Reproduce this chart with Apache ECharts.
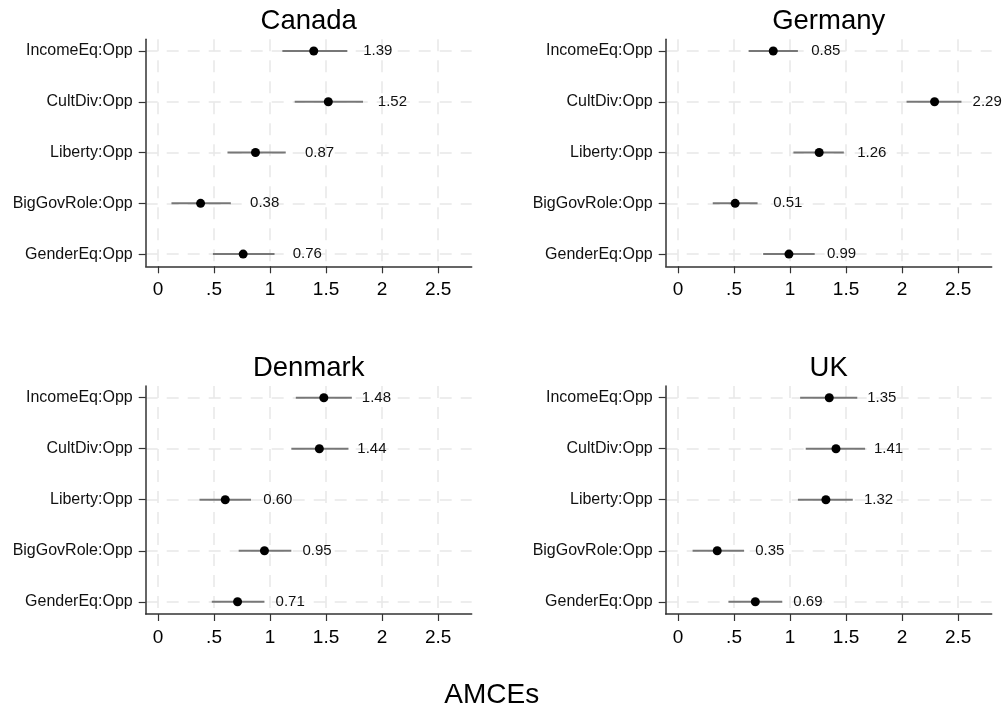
<!DOCTYPE html>
<html>
<head>
<meta charset="utf-8">
<script src="https://cdn.jsdelivr.net/npm/echarts@6/dist/echarts.min.js"></script>
<style>
html,body{margin:0;padding:0;background:#fff;}
#chart{width:1003px;height:711px;}
</style>
</head>
<body>
<div id="chart"></div>
<script>
const categories = ['IncomeEq:Opp', 'CultDiv:Opp', 'Liberty:Opp', 'BigGovRole:Opp', 'GenderEq:Opp'];
const countries = ['Canada', 'Germany', 'Denmark', 'UK'];
const xTickValues = [0, 0.5, 1, 1.5, 2, 2.5];
const xTickLabels = ['0', '.5', '1', '1.5', '2', '2.5'];

const canadaEst = [1.39, 1.52, 0.87, 0.38, 0.76];
const canadaLo  = [1.11, 1.22, 0.62, 0.12, 0.49];
const canadaHi  = [1.69, 1.83, 1.14, 0.65, 1.04];

const germanyEst = [0.85, 2.29, 1.26, 0.51, 0.99];
const germanyLo  = [0.63, 2.04, 1.03, 0.31, 0.76];
const germanyHi  = [1.07, 2.53, 1.48, 0.71, 1.22];

const denmarkEst = [1.48, 1.44, 0.60, 0.95, 0.71];
const denmarkLo  = [1.23, 1.19, 0.37, 0.72, 0.48];
const denmarkHi  = [1.73, 1.70, 0.83, 1.19, 0.95];

const ukEst = [1.35, 1.41, 1.32, 0.35, 0.69];
const ukLo  = [1.09, 1.14, 1.07, 0.13, 0.45];
const ukHi  = [1.60, 1.67, 1.56, 0.59, 0.93];

const xAxisTitle = 'AMCEs';

const panels = [
  {name: countries[0], est: canadaEst, lo: canadaLo, hi: canadaHi},
  {name: countries[1], est: germanyEst, lo: germanyLo, hi: germanyHi},
  {name: countries[2], est: denmarkEst, lo: denmarkLo, hi: denmarkHi},
  {name: countries[3], est: ukEst, lo: ukLo, hi: ukHi}
];

const FONT = '"Liberation Sans", Arial, sans-serif';
const gridPos = [
  {left: 145.7, top: 39.3, width: 326, height: 227},
  {left: 665.7, top: 39.3, width: 326, height: 227},
  {left: 145.7, top: 386, width: 326, height: 228},
  {left: 665.7, top: 386, width: 326, height: 228}
];
const labelDist = [45, 33.5, 33.5, 33.5];
const titlePos = [[308.7, 21], [828.7, 21], [308.7, 368], [828.7, 368]];
const catPositions = categories.map((c, i) => i + 1);

const grids = [], xAxes = [], yAxes = [], series = [], graphics = [];
panels.forEach((p, k) => {
  grids.push(Object.assign({containLabel: false}, gridPos[k]));
  xAxes.push({
    type: 'value', gridIndex: k, min: -0.11, max: 2.8,
    axisLine: {show: true, onZero: false, lineStyle: {color: '#333', width: 1.5}},
    axisTick: {show: true, length: 7, customValues: xTickValues, lineStyle: {color: '#333', width: 1.2}},
    axisLabel: {show: true, customValues: xTickValues, margin: 14, fontSize: 19, fontFamily: FONT, color: '#000',
      formatter: v => xTickLabels[xTickValues.indexOf(v)] !== undefined ? xTickLabels[xTickValues.indexOf(v)] : ''},
    splitLine: {show: true, lineStyle: {color: '#e8e8e8', width: 1.5, type: [12, 9]}}
  });
  yAxes.push({
    type: 'value', gridIndex: k, inverse: true, min: 0.77, max: 5.24,
    axisLine: {show: true, onZero: false, lineStyle: {color: '#333', width: 1.5}},
    axisTick: {show: true, length: 7, customValues: catPositions, lineStyle: {color: '#333', width: 1.2}},
    axisLabel: {show: true, customValues: catPositions, margin: 13, fontSize: 16, fontFamily: FONT, color: '#111',
      formatter: v => categories[Math.round(v) - 1] || ''},
    splitLine: {show: true, lineStyle: {color: '#e8e8e8', width: 1.5, type: [12, 9]}}
  });
  series.push({
    type: 'custom', xAxisIndex: k, yAxisIndex: k, silent: true, clip: false,
    encode: {x: [1, 2], y: 0},
    data: catPositions.map((y, i) => [y, p.lo[i], p.hi[i]]),
    renderItem: (params, api) => {
      const y = api.value(0);
      const a = api.coord([api.value(1), y]);
      const b = api.coord([api.value(2), y]);
      return {type: 'line', shape: {x1: a[0], y1: a[1], x2: b[0], y2: b[1]},
        style: {stroke: '#777', lineWidth: 2}};
    },
    z: 2
  });
  series.push({
    type: 'scatter', xAxisIndex: k, yAxisIndex: k, silent: true,
    symbol: 'circle', symbolSize: 9,
    itemStyle: {color: '#000', opacity: 1},
    data: catPositions.map((y, i) => [p.est[i], y]),
    label: {show: true, position: 'right', distance: labelDist[k], fontSize: 15, fontFamily: FONT, color: '#111', opacity: 1,
      formatter: d => d.value[0].toFixed(2)},
    z: 3
  });
  graphics.push({type: 'text', x: titlePos[k][0], y: titlePos[k][1],
    style: {text: p.name, font: '27.5px ' + FONT, fill: '#000', align: 'center', verticalAlign: 'middle'}});
});
graphics.push({type: 'text', x: 491.7, y: 695.5,
  style: {text: xAxisTitle, font: '28px ' + FONT, fill: '#000', align: 'center', verticalAlign: 'middle'}});

const chart = echarts.init(document.getElementById('chart'), null, {renderer: 'canvas'});
chart.setOption({
  animation: false,
  backgroundColor: '#fff',
  grid: grids,
  xAxis: xAxes,
  yAxis: yAxes,
  series: series,
  graphic: graphics
});
</script>
</body>
</html>
